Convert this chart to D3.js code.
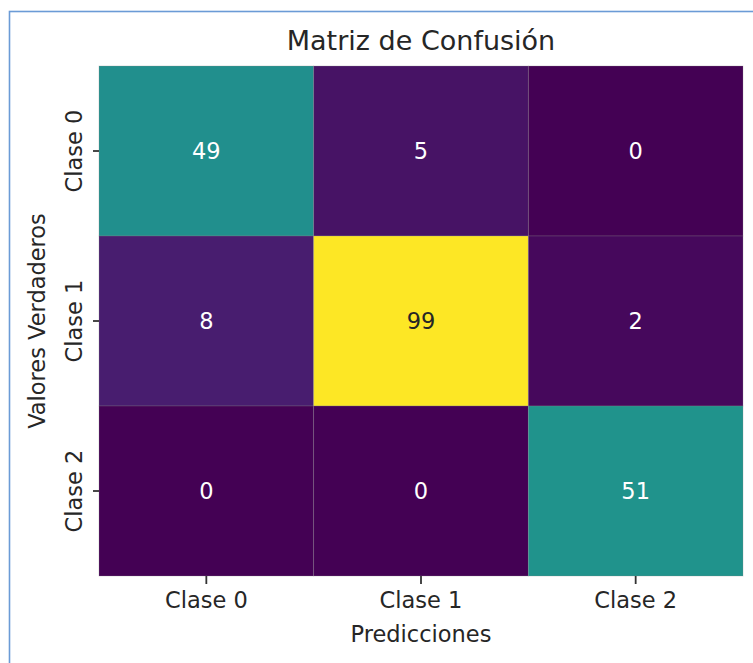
<!DOCTYPE html>
<html>
<head>
<meta charset="utf-8">
<script src="https://cdn.jsdelivr.net/npm/d3@7"></script>
<style>
  body { margin: 0; background: #fff; }
  svg { display: block; font-family: "DejaVu Sans", sans-serif; }
</style>
</head>
<body>
<script>
// confusion matrix data
const classes = ["Clase 0", "Clase 1", "Clase 2"];
const matrix = [
  [49, 5, 0],
  [8, 99, 2],
  [0, 0, 51]
];
const title = "Matriz de Confusión";
const xLabel = "Predicciones";
const yLabel = "Valores Verdaderos";

const width = 753, height = 663;
const margin = {top: 66, right: 10, bottom: 87, left: 99};
const plotW = 644, plotH = 510;

const svg = d3.select("body").append("svg")
    .attr("width", width)
    .attr("height", height);

// screenshot frame
svg.append("rect")
    .attr("x", 9.5).attr("y", 11.5)
    .attr("width", 800).attr("height", 700)
    .attr("fill", "none")
    .attr("stroke", "#6b9bd6")
    .attr("stroke-width", 1.6);

const g = svg.append("g").attr("transform", `translate(${margin.left},${margin.top})`);

const x = d3.scaleBand().domain(classes).range([0, plotW]);
const y = d3.scaleBand().domain(classes).range([0, plotH]);
const color = d3.scaleSequential(d3.interpolateViridis)
    .domain([0, d3.max(matrix.flat())]);

const cells = [];
matrix.forEach((row, i) => row.forEach((v, j) => cells.push({row: classes[i], col: classes[j], v})));

g.selectAll("rect.cell").data(cells).join("rect")
    .attr("class", "cell")
    .attr("x", d => x(d.col))
    .attr("y", d => y(d.row))
    .attr("width", x.bandwidth())
    .attr("height", y.bandwidth())
    .attr("fill", d => color(d.v))
    .attr("stroke", "rgba(140,140,140,0.35)")
    .attr("stroke-width", 0.8);

// text colour picked by cell luminance, like seaborn does
g.selectAll("text.annot").data(cells).join("text")
    .attr("class", "annot")
    .attr("x", d => x(d.col) + x.bandwidth() / 2)
    .attr("y", d => y(d.row) + y.bandwidth() / 2)
    .attr("dy", "0.36em")
    .attr("text-anchor", "middle")
    .attr("font-size", 22.5)
    .attr("fill", d => d3.hsl(color(d.v)).l > 0.45 ? "#262626" : "#ffffff")
    .text(d => d.v);

const xAxis = g.append("g")
    .attr("transform", `translate(0,${plotH})`)
    .call(d3.axisBottom(x).tickSize(8).tickPadding(8));
const yAxis = g.append("g")
    .call(d3.axisLeft(y).tickSize(6).tickPadding(0));

[xAxis, yAxis].forEach(a => {
  a.select(".domain").remove();
  a.selectAll(".tick line").attr("stroke", "#333").attr("stroke-width", 1.8);
  a.selectAll(".tick text")
      .attr("font-family", "DejaVu Sans")
      .attr("font-size", 22.5)
      .attr("fill", "#262626");
});

yAxis.selectAll(".tick text")
    .attr("transform", "rotate(-90)")
    .attr("x", 0)
    .attr("y", -17)
    .attr("dy", 0)
    .attr("text-anchor", "middle");

svg.append("text")
    .attr("x", margin.left + plotW / 2)
    .attr("y", 50)
    .attr("text-anchor", "middle")
    .attr("font-size", 27)
    .attr("fill", "#262626")
    .text(title);

svg.append("text")
    .attr("x", margin.left + plotW / 2)
    .attr("y", 642)
    .attr("text-anchor", "middle")
    .attr("font-size", 22.5)
    .attr("fill", "#262626")
    .text(xLabel);

svg.append("text")
    .attr("transform", `translate(45,${margin.top + plotH / 2}) rotate(-90)`)
    .attr("text-anchor", "middle")
    .attr("font-size", 22.5)
    .attr("fill", "#262626")
    .text(yLabel);
</script>
</body>
</html>
